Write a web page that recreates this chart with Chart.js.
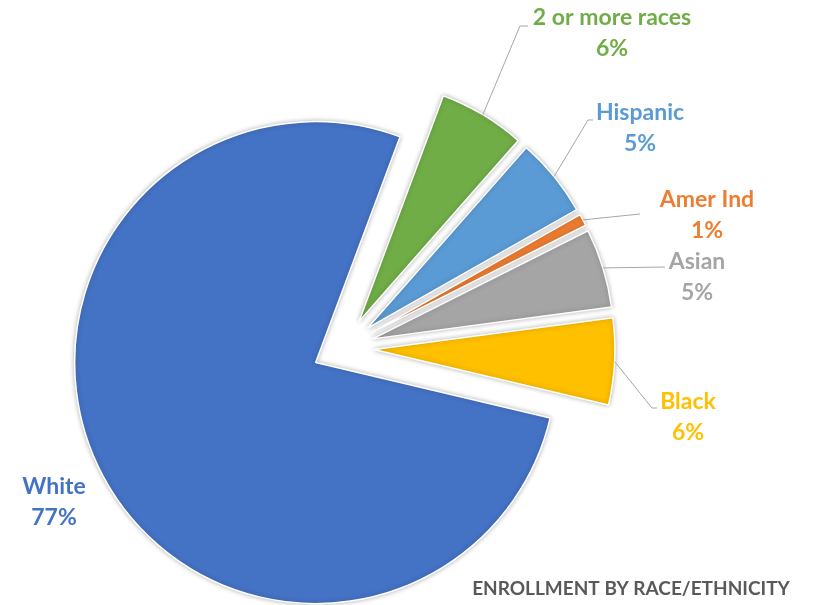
<!DOCTYPE html>
<html>
<head>
  <title>Enrollment by race/ethnicity</title>
  <script src="https://cdn.jsdelivr.net/npm/chart.js@4.4.1/dist/chart.umd.min.js"></script>
  <style type="text/css">
    html, body { margin: 0; padding: 0; background: #fff; overflow: hidden; }
    #chart-container { width: 816px; height: 605px; }
  </style>
</head>
<body>
  <div id="chart-container">
    <canvas id="mycanvas" width="816" height="605"></canvas>
  </div>
<script>
// shares of enrollment (percent)
var groups = ['White', '2 or more races', 'Hispanic', 'Amer Ind', 'Asian', 'Black'];
var shares = [77.0, 5.8, 5.3, 0.8, 5.3, 5.8];
var pctLabels = ['77%', '6%', '5%', '1%', '5%', '6%'];
var sliceColors = ['#4472C4', '#70AD47', '#5B9BD5', '#ED7D31', '#A5A5A5', '#FFC000'];

var EXPLODE = 31; // px each slice is pulled out from the centre

// label placement: text centre and leader line bends (none for White)
var labelSpots = [
  { x: 54,  y: 487, line: null },
  { x: 612, y: 18,  line: [[520, 26], [528, 26]] },
  { x: 640, y: 113, line: [[588, 120], [593, 120]] },
  { x: 707, y: 200, line: [[640, 214]] },
  { x: 697, y: 262, line: [[665, 267]] },
  { x: 688, y: 402, line: [[652, 408], [657, 408]] }
];

// pull every slice out along its own middle angle (excel style explode)
var explodePlugin = {
  id: 'explode',
  afterDatasetUpdate: function(chart, args) {
    args.meta.data.forEach(function(arc) {
      var mid = (arc.startAngle + arc.endAngle) / 2;
      arc.x += Math.cos(mid) * EXPLODE;
      arc.y += Math.sin(mid) * EXPLODE;
    });
  }
};

var shadowPlugin = {
  id: 'shadow',
  beforeDatasetsDraw: function(chart) {
    var ctx = chart.ctx;
    ctx.save();
    ctx.shadowColor = 'rgba(0,0,0,0.28)';
    ctx.shadowBlur = 5;
  },
  afterDatasetsDraw: function(chart) {
    chart.ctx.restore();
  }
};

var labelPlugin = {
  id: 'outLabels',
  afterDraw: function(chart) {
    var ctx = chart.ctx;
    var arcs = chart.getDatasetMeta(0).data;
    ctx.save();
    arcs.forEach(function(arc, i) {
      var spot = labelSpots[i];
      if (spot.line) {
        var mid = (arc.startAngle + arc.endAngle) / 2;
        ctx.beginPath();
        ctx.moveTo(arc.x + Math.cos(mid) * arc.outerRadius, arc.y + Math.sin(mid) * arc.outerRadius);
        spot.line.forEach(function(p) { ctx.lineTo(p[0], p[1]); });
        ctx.strokeStyle = '#A6A6A6';
        ctx.lineWidth = 1;
        ctx.stroke();
      }
      ctx.fillStyle = sliceColors[i];
      ctx.font = 'bold 23px Lato';
      ctx.textAlign = 'center';
      ctx.textBaseline = 'middle';
      ctx.fillText(groups[i], spot.x, spot.y);
      ctx.fillText(pctLabels[i], spot.x, spot.y + 31);
    });
    ctx.fillStyle = '#595959';
    ctx.font = 'bold 19px Lato';
    ctx.textAlign = 'center';
    ctx.textBaseline = 'middle';
    ctx.fillText('ENROLLMENT BY RACE/ETHNICITY', 631, 589);
    ctx.restore();
  }
};

var ctx = document.getElementById('mycanvas');
var pie = new Chart(ctx, {
  type: 'pie',
  data: {
    labels: groups,
    datasets: [{
      data: shares,
      backgroundColor: sliceColors,
      borderColor: '#ffffff',
      borderWidth: 1.5,
      clip: false
    }]
  },
  options: {
    responsive: false,
    animation: false,
    devicePixelRatio: 1,
    rotation: 103.3,
    radius: 241,
    layout: { padding: { left: 0, right: 130, top: 91, bottom: 0 } },
    plugins: {
      legend: { display: false },
      tooltip: { enabled: false }
    }
  },
  plugins: [explodePlugin, shadowPlugin, labelPlugin]
});
</script>
</body>
</html>
